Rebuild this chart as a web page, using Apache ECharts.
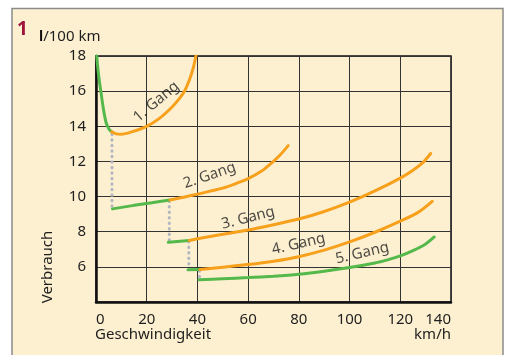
<!DOCTYPE html>
<html>
<head>
<meta charset="utf-8">
<script src="https://cdn.jsdelivr.net/npm/echarts@6/dist/echarts.min.js"></script>
<style>
  html, body { margin: 0; padding: 0; background: #fff; }
  #chart { width: 506px; height: 355px; }
</style>
</head>
<body>
<div id="chart"></div>
<script>
// Verbrauch (l/100 km) über Geschwindigkeit (km/h), je Gang
var gang1Gruen = [[0.3,18],[0.8,17.2],[1.4,16.5],[1.9,16],[2.9,15],[4.0,14.2],[5.1,13.85],[6.2,13.68]];
var gang1Orange = [[6.2,13.68],[8,13.57],[10,13.55],[14,13.68],[20,14.0],[25,14.45],[30,15.1],[33,15.6],[35.1,16.05],[37,16.7],[38.4,17.35],[39.4,18]];
var gang2Gruen = [[6.5,9.3],[15,9.5],[22,9.65],[29.2,9.81]];
var gang2Orange = [[29.2,9.81],[35,9.98],[40,10.14],[50,10.48],[55,10.73],[60,11.02],[65,11.42],[69,11.88],[72.5,12.35],[75.8,12.9]];
var gang3Gruen = [[28.5,7.4],[36.8,7.5]];
var gang3Orange = [[36.8,7.5],[40,7.6],[50,7.85],[60,8.1],[70,8.4],[80,8.72],[90,9.15],[100,9.68],[110,10.32],[120,11.05],[125,11.5],[129,11.95],[132,12.45]];
var gang4Gruen = [[36.3,5.83],[41,5.85]];
var gang4Orange = [[41,5.85],[50,5.98],[60,6.13],[70,6.32],[80,6.58],[90,6.95],[100,7.42],[110,7.97],[120,8.6],[127,9.1],[132.6,9.73]];
var gang5Gruen = [[40.6,5.26],[50,5.32],[60,5.39],[70,5.47],[80,5.58],[90,5.75],[100,5.96],[110,6.22],[115,6.4],[120,6.62],[125,6.92],[130,7.3],[133.4,7.7]];

// Schaltpunkte (gepunktete Linien)
var schalt1 = [[6.3,13.55],[6.3,9.4]];
var schalt2 = [[28.9,9.75],[28.9,7.5]];
var schalt3 = [[36.6,7.45],[36.6,5.9]];
var schalt4 = [[40.8,5.78],[40.8,5.3]];

var gangNamen = ['1. Gang','2. Gang','3. Gang','4. Gang','5. Gang'];
var gangLabelX = [23.8, 44.8, 60.0, 79.9, 105.0];
var gangLabelY = [15.4, 11.2, 8.78, 7.3, 6.78];
var gangWinkel = [40, 19, 14, 13, 13];

var xTicks = [0,20,40,60,80,100,120,140];

var ORANGE = '#f7a01c';
var GREEN = '#54b94a';
var DOT = '#b3b7c2';

function kurve(data, color) {
  return {
    type: 'line', data: data, smooth: 0.3, showSymbol: false, silent: true,
    lineStyle: { color: color, width: 3, cap: 'round' }
  };
}
function punkte(data) {
  return {
    type: 'line', data: data, showSymbol: false, silent: true, z: 1,
    lineStyle: { color: DOT, width: 3, type: [0.5, 5], cap: 'round' }
  };
}

var labelData = gangNamen.map(function (n, i) {
  return { name: n, value: [gangLabelX[i], gangLabelY[i]], label: { rotate: gangWinkel[i] } };
});

var myChart = echarts.init(document.getElementById('chart'));
myChart.setOption({
  animation: false,
  textStyle: { fontFamily: 'Noto Sans' },
  graphic: [
    { type: 'rect', z: -10, shape: { x: 12, y: 8.5, width: 491, height: 360 },
      style: { fill: '#fdf0d1', stroke: '#8a8a8a', lineWidth: 1.5 } },
    { type: 'text', left: 17, top: 20,
      style: { text: '1', fill: '#a0143c', font: 'bold 19px "Noto Sans"' } },
    { type: 'text', left: 39, top: 29,
      style: { text: '{b|l}/100 km', fill: '#1e1e1e', font: '15px "Noto Sans"',
        rich: { b: { fontWeight: 'bold', fontSize: 15, fill: '#111' } } } },
    { type: 'text', left: 95, top: 327,
      style: { text: 'Geschwindigkeit', fill: '#1e1e1e', font: '15px "Noto Sans"' } },
    { type: 'text', right: 55, top: 327,
      style: { text: 'km/h', fill: '#1e1e1e', font: '15px "Noto Sans"' } },
    { type: 'text', x: 48, y: 267, rotation: Math.PI / 2,
      style: { text: 'Verbrauch', fill: '#1e1e1e', font: '15px "Noto Sans"', align: 'center', verticalAlign: 'middle' } }
  ],
  grid: { left: 96, top: 56, width: 355, height: 246, show: true,
    borderColor: '#111', borderWidth: 1.5, backgroundColor: 'transparent' },
  xAxis: {
    type: 'value', min: 0, max: 140, interval: 20,
    axisLine: { show: true, onZero: false, lineStyle: { color: '#111', width: 2.5 } },
    axisTick: { show: false },
    splitLine: { show: true, lineStyle: { color: '#333', width: 1 } },
    axisLabel: { color: '#1e1e1e', fontSize: 15, margin: 10, alignMinLabel: 'left', alignMaxLabel: 'right',
      formatter: function (v) { return xTicks.indexOf(v) >= 0 ? String(v) : ''; } }
  },
  yAxis: {
    type: 'value', min: 4, max: 18, interval: 2,
    axisLine: { show: true, onZero: false, lineStyle: { color: '#111', width: 2.5 } },
    axisTick: { show: false },
    splitLine: { show: true, lineStyle: { color: '#333', width: 1 } },
    axisLabel: { color: '#1e1e1e', fontSize: 15, margin: 10,
      formatter: function (v) { return v === 4 ? '' : String(v); } }
  },
  series: [
    punkte(schalt1), punkte(schalt2), punkte(schalt3), punkte(schalt4),
    kurve(gang1Gruen, GREEN), kurve(gang1Orange, ORANGE),
    kurve(gang2Gruen, GREEN), kurve(gang2Orange, ORANGE),
    kurve(gang3Gruen, GREEN), kurve(gang3Orange, ORANGE),
    kurve(gang4Gruen, GREEN), kurve(gang4Orange, ORANGE),
    kurve(gang5Gruen, GREEN),
    {
      type: 'scatter', data: labelData, symbolSize: 0, silent: true, z: 5,
      label: { show: true, position: 'inside', formatter: '{b}', color: '#1e1e1e', fontSize: 15, fontFamily: 'Noto Sans' }
    }
  ]
});
</script>
</body>
</html>
